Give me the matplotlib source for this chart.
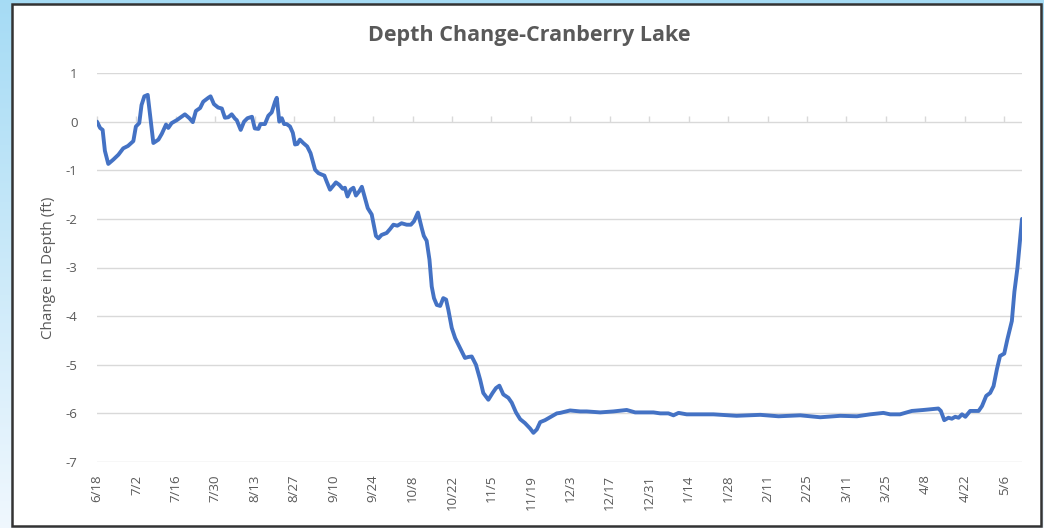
import numpy as np
import matplotlib
matplotlib.use("Agg")
import matplotlib.pyplot as plt
from matplotlib.patches import Rectangle

# ---------------- data ----------------
title = "Depth Change-Cranberry Lake"
y_label = "Change in Depth (ft)"

tick_labels = ["6/18", "7/2", "7/16", "7/30", "8/13", "8/27", "9/10", "9/24",
               "10/8", "10/22", "11/5", "11/19", "12/3", "12/17", "12/31",
               "1/14", "1/28", "2/11", "2/25", "3/11", "3/25", "4/8", "4/22", "5/6"]
tick_step_days = 14

# days since 6/18
day_offset = [
    0.0, 1.1, 2.0, 2.8, 4.0, 5.8, 7.6, 9.3, 11.0, 12.9, 13.8, 15.0, 15.8, 16.8,
    18.0, 20.0, 21.8, 23.0, 24.5, 25.3, 26.5, 28.3, 30.0, 31.2, 32.8, 34.0,
    35.1, 36.6, 37.7, 39.5, 40.3, 41.5, 43.0, 44.3, 45.4, 46.6, 47.8, 49.0,
    49.6, 51.0, 52.2, 53.4, 55.0, 56.0, 57.3, 58.0, 59.6, 60.8, 62.0, 63.2,
    63.8, 64.7, 65.6, 66.4, 67.3, 68.5, 69.5, 70.3, 71.1, 72.0, 73.2, 74.6,
    75.8, 77.4, 78.6, 79.8, 80.7, 81.5, 82.7, 83.7, 84.8, 86.0, 87.2, 88.0,
    88.9, 90.0, 91.0, 91.9, 93.1, 94.0, 95.1, 96.1, 97.5, 98.3, 99.0, 99.9,
    101.0, 102.8, 104.0, 105.2, 106.6, 108.1, 109.9, 111.4, 112.5, 113.9,
    115.3, 116.0, 117.0, 118.0, 118.8, 119.6, 120.6, 121.8, 122.9, 123.9,
    124.7, 125.9, 127.1, 128.9, 130.6, 131.8, 133.0, 134.5, 136.0, 137.1,
    138.9, 140.4, 141.6, 142.8, 144.2, 146.0, 147.2, 148.7, 150.2, 151.9,
    153.7, 154.9, 156.1, 157.3, 159.0, 160.8, 163.2, 164.4, 167.9, 171.5,
    173.8, 178.6, 183.3, 188.0, 191.0, 197.5, 199.9, 202.8, 204.6, 206.4,
    209.3, 218.8, 227.0, 235.4, 241.9, 249.6, 256.7, 263.8, 269.7, 274.4,
    279.1, 281.5, 285.0, 289.2, 293.3, 298.6, 299.5, 300.7, 302.2, 303.4,
    304.6, 305.8, 307.0, 308.2, 309.9, 312.9, 314.1, 315.6, 317.0, 318.2,
    319.4, 320.5, 322.0, 323.1, 324.7, 325.6, 326.7, 328.3]

depth_change = [
    0.00, -0.13, -0.17, -0.60, -0.87, -0.78, -0.68, -0.55, -0.50, -0.40, -0.10,
    -0.03, 0.34, 0.52, 0.55, -0.44, -0.37, -0.25, -0.06, -0.13, -0.03, 0.03,
    0.10, 0.15, 0.07, -0.01, 0.22, 0.28, 0.41, 0.49, 0.52, 0.36, 0.29, 0.27,
    0.08, 0.09, 0.15, 0.06, 0.03, -0.17, 0.00, 0.07, 0.10, -0.14, -0.15, -0.05,
    -0.05, 0.12, 0.19, 0.41, 0.49, 0.00, 0.07, -0.05, -0.05, -0.10, -0.23,
    -0.47, -0.46, -0.37, -0.44, -0.51, -0.65, -0.99, -1.06, -1.09, -1.11,
    -1.23, -1.40, -1.33, -1.25, -1.30, -1.38, -1.36, -1.54, -1.40, -1.36,
    -1.52, -1.43, -1.34, -1.57, -1.78, -1.91, -2.15, -2.35, -2.40, -2.33,
    -2.29, -2.21, -2.12, -2.14, -2.09, -2.12, -2.12, -2.05, -1.87, -2.20,
    -2.35, -2.45, -2.84, -3.39, -3.63, -3.77, -3.79, -3.63, -3.66, -3.87,
    -4.24, -4.45, -4.66, -4.86, -4.84, -4.83, -5.00, -5.31, -5.58, -5.72,
    -5.58, -5.48, -5.43, -5.61, -5.68, -5.78, -5.98, -6.12, -6.20, -6.31,
    -6.40, -6.33, -6.18, -6.14, -6.08, -6.00, -5.99, -5.94, -5.96, -5.96,
    -5.98, -5.96, -5.93, -5.98, -5.98, -6.00, -6.00, -6.04, -5.99, -6.02,
    -6.02, -6.05, -6.03, -6.06, -6.04, -6.08, -6.05, -6.06, -6.02, -5.99,
    -6.02, -6.02, -5.95, -5.93, -5.90, -5.95, -6.14, -6.09, -6.11, -6.07,
    -6.09, -6.02, -6.07, -5.95, -5.95, -5.85, -5.64, -5.58, -5.44, -5.09,
    -4.82, -4.77, -4.48, -4.10, -3.50, -3.00, -2.00]

y_ticks = [1, 0, -1, -2, -3, -4, -5, -6, -7]

# ---------------- figure ----------------
W, H = 1044, 528
fig = plt.figure(figsize=(W / 100, H / 100), dpi=100)
plt.rcParams['font.family'] = ['Open Sans', 'DejaVu Sans']

# blue gradient background
bg = fig.add_axes([0, 0, 1, 1], zorder=-10)
grad = np.linspace(0, 1, 256).reshape(-1, 1)
top_c = np.array([0.65, 0.86, 0.96])
bot_c = np.array([0.94, 0.97, 0.995])
img = top_c[None, None, :] * (1 - grad[:, :, None]) + bot_c[None, None, :] * grad[:, :, None]
bg.imshow(img, aspect='auto', extent=[0, 1, 0, 1], origin='upper')
bg.set_xlim(0, 1)
bg.set_ylim(0, 1)
bg.axis('off')

# white chart frame
fx0, fx1 = 11.5 / W, 1040.5 / W
fy0, fy1 = 1 - 526 / H, 1 - 3.5 / H
frame = Rectangle((fx0, fy0), fx1 - fx0, fy1 - fy0, transform=fig.transFigure,
                  facecolor='white', edgecolor='#333333', linewidth=1.8, zorder=-5)
fig.patches.append(frame)

ax = fig.add_axes([97 / W, 1 - 462 / H, (1022 - 97) / W, (462 - 73) / H])
ax.set_facecolor('none')

ax.plot(day_offset, depth_change, color='#4472C4', linewidth=2.8,
        solid_joinstyle='round', solid_capstyle='round', zorder=3)

ymin, ymax = min(y_ticks), max(y_ticks)
ax.set_ylim(ymin, ymax)
ax.set_xlim(day_offset[0], day_offset[-1])
ax.set_yticks(y_ticks)
ax.set_yticklabels([str(v) for v in y_ticks])
ax.yaxis.grid(True, color='#d9d9d9', linewidth=1.0)
ax.set_axisbelow(True)

tick_pos = [i * tick_step_days for i in range(len(tick_labels))]
ax.set_xticks(tick_pos)
ax.set_xticklabels(tick_labels, rotation=90, fontsize=9.5, color='#595959')
ax.tick_params(axis='x', length=0, pad=9)
ax.tick_params(axis='y', length=0, labelsize=9.5, labelcolor='#595959', pad=14)

for s in ax.spines.values():
    s.set_visible(False)

# horizontal axis line at zero with tick marks
sec = ax.secondary_xaxis((0 - ymin) / (ymax - ymin))
sec.set_xticks(tick_pos)
sec.set_xticklabels([])
sec.tick_params(axis='x', direction='out', length=4, color='#d9d9d9', width=1)
sec.spines['bottom'].set_color('#d9d9d9')
for k in ('top', 'left', 'right'):
    if k in sec.spines:
        sec.spines[k].set_visible(False)

ax.set_ylabel(y_label, fontsize=11, color='#595959')
ax.yaxis.set_label_coords((56 - 97) / (1022 - 97), 0.5)

fig.text((367 + 692) / 2 / W, 1 - 35 / H, title, ha='center', va='center',
         fontsize=15.5, fontweight='bold', color='#595959')

fig.savefig('out.png', dpi=100)
